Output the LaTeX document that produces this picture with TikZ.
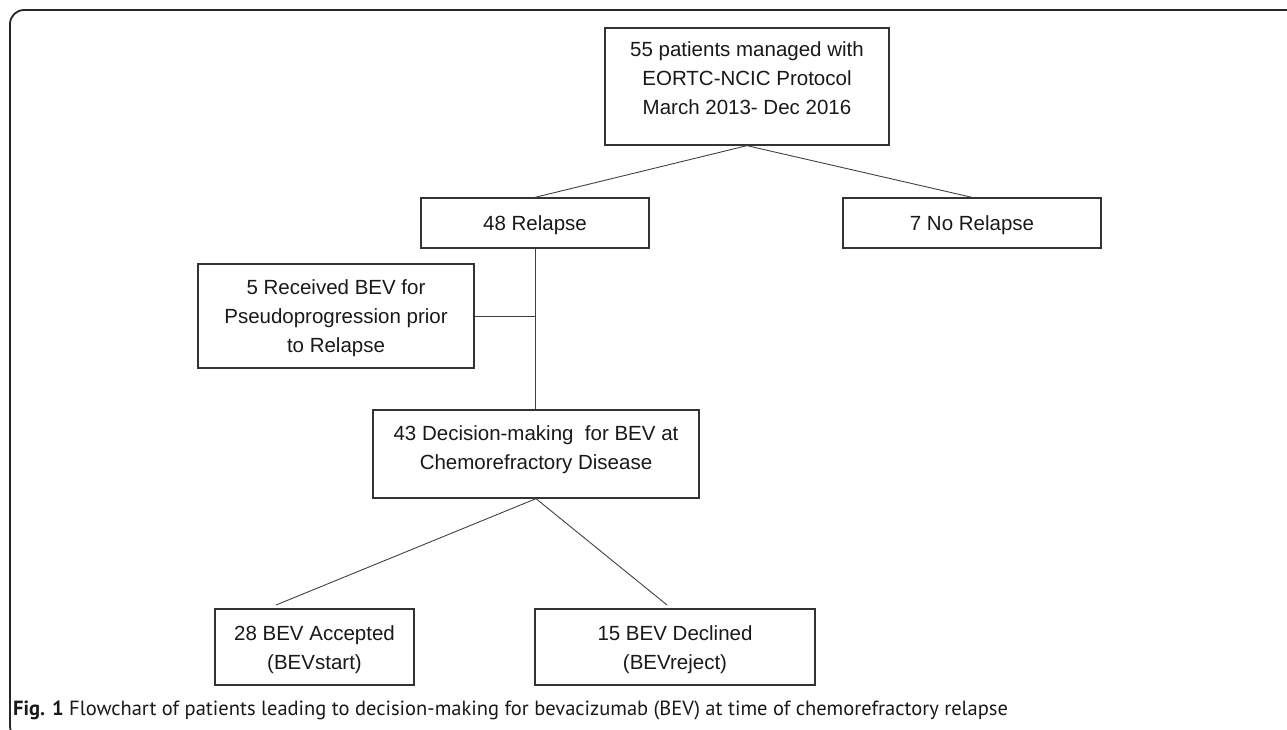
\documentclass[tikz,border=0pt]{standalone}
\usepackage{fontspec}
\setmainfont{Liberation Sans}
\newfontfamily\capfont{PT Sans}
\usetikzlibrary{positioning}

% box text: raise first baseline by #1 above the box centre
\newcommand{\boxlines}[2]{\raisebox{#1}[0pt][0pt]{\begin{tabular}[t]{@{}c@{}}#2\end{tabular}}}

\begin{document}
\begin{tikzpicture}[x=1pt, y=-1pt,
    flowbox/.style={draw=black!80, line width=1.3pt, inner sep=0pt, text=black!90,
        font=\fontsize{20.5}{29}\selectfont},
    link/.style={draw=black!75, line width=0.9pt}]
    \useasboundingbox (0,0) rectangle (1287,729);
    \draw[line width=1.8pt, black!85, rounded corners=14pt](1300, 10)--(10, 10)--(10, 740)--(40, 740);

    \node[flowbox, minimum width=284pt, minimum height=117pt](total) at (747, 86.5)
        {\boxlines{30pt}{55 patients managed with\\EORTC-NCIC Protocol\\March 2013- Dec 2016}};
    \node[flowbox, minimum width=228pt, minimum height=50pt](relapse) at (535, 223)
        {\boxlines{-7pt}{48 Relapse}};
    \node[flowbox, minimum width=258pt, minimum height=50pt](norelapse) at (972, 223)
        {\boxlines{-7pt}{7 No Relapse}};
    \node[flowbox, minimum width=276pt, minimum height=104pt](pseudo) at (336, 316)
        {\boxlines{22pt}{5 Received BEV for\\Pseudoprogression prior\\to Relapse}};
    \node[flowbox, minimum width=326pt, minimum height=88pt](decision) at (536, 454)
        {\boxlines{14pt}{43 Decision-making\ \ for BEV at\\Chemorefractory Disease}};
    \node[flowbox, minimum width=199pt, minimum height=76pt](accepted) at (314.5, 647)
        {\boxlines{7pt}{28 BEV Accepted\\(BEVstart)}};
    \node[flowbox, minimum width=280pt, minimum height=76pt](declined) at (675, 647)
        {\boxlines{7pt}{15 BEV Declined\\(BEVreject)}};

    \coordinate(acctip) at (276, 605);
    \coordinate(dectip) at (667, 605);

    \draw[link](total.south)--(relapse.north);
    \draw[link](total.south)--(norelapse.north);
    \draw[link](relapse.south)--(relapse.south |- decision.north);
    \draw[link](pseudo.east)--(pseudo.east -| relapse.south);
    \draw[link](decision.south)--(acctip);
    \draw[link](decision.south)--(dectip);

    \node[anchor=base west, inner sep=0pt, text=black!90, font=\capfont\fontsize{20.5}{24}\selectfont](caption) at (13, 715)
        {\textbf{Fig. 1} Flowchart of patients leading to decision-making for bevacizumab (BEV) at time of chemorefractory relapse};
\end{tikzpicture}
\end{document}
